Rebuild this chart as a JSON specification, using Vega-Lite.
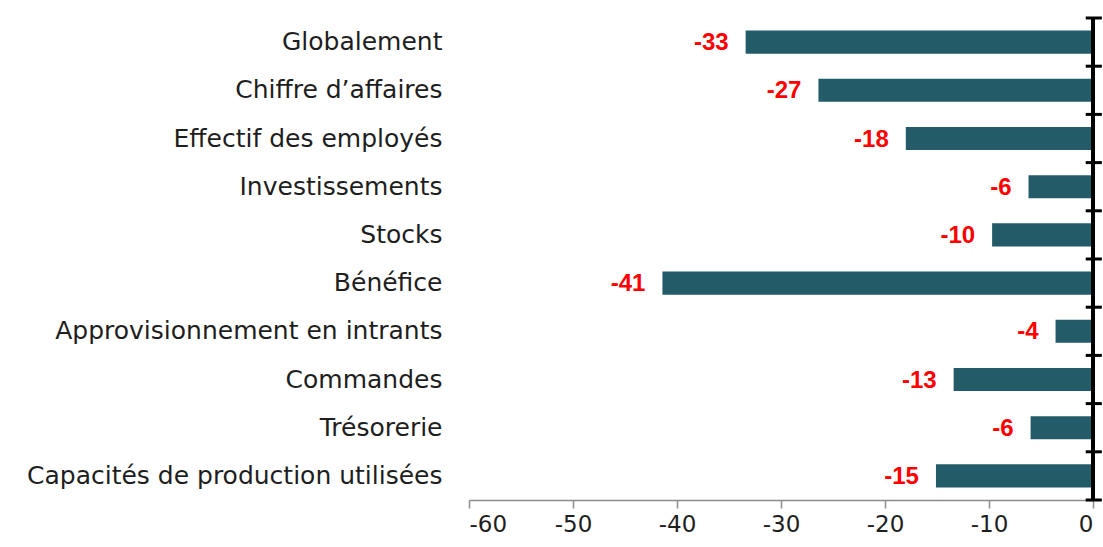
{
  "$schema": "https://vega.github.io/schema/vega-lite/v6.json",
  "autosize": "none",
  "width": 624,
  "height": 482,
  "padding": {"left": 469, "top": 18, "right": 10, "bottom": 47},
  "background": "white",
  "config": {"view": {"stroke": null}},
  "data": {"values": [
    {"cat": "Globalement", "value": -33.4, "label": "-33"},
    {"cat": "Chiffre d’affaires", "value": -26.4, "label": "-27"},
    {"cat": "Effectif des employés", "value": -18.0, "label": "-18"},
    {"cat": "Investissements", "value": -6.2, "label": "-6"},
    {"cat": "Stocks", "value": -9.7, "label": "-10"},
    {"cat": "Bénéfice", "value": -41.4, "label": "-41"},
    {"cat": "Approvisionnement en intrants", "value": -3.6, "label": "-4"},
    {"cat": "Commandes", "value": -13.4, "label": "-13"},
    {"cat": "Trésorerie", "value": -6.0, "label": "-6"},
    {"cat": "Capacités de production utilisées", "value": -15.1, "label": "-15"}
  ]},
  "layer": [
    {
      "mark": {"type": "bar", "color": "#235b69", "height": {"band": 0.48}},
      "encoding": {
        "y": {"field": "cat", "type": "nominal", "sort": null,
          "scale": {"paddingInner": 0, "paddingOuter": 0},
          "axis": {"title": null, "orient": "left", "domain": false, "ticks": false, "tickSize": 0,
            "labelPadding": 27, "labelFont": "DejaVu Sans", "labelFontSize": 25, "labelColor": "#1e1e1e", "labelLimit": 600}},
        "x": {"field": "value", "type": "quantitative",
          "scale": {"domain": [-60, 0], "nice": false, "zero": false},
          "axis": {"title": null, "values": [-60, -50, -40, -30, -20, -10, 0], "grid": false,
            "labelExpr": "'' + datum.value",
            "domainColor": "#8c8c8c", "domainWidth": 1.5, "tickColor": "#8c8c8c", "tickWidth": 1.5, "tickSize": 8,
            "labelFont": "DejaVu Sans", "labelFontSize": 23, "labelColor": "#1e1e1e", "labelPadding": 5}}
      }
    },
    {
      "mark": {"type": "text", "align": "right", "baseline": "middle", "dx": -17, "dy": 1,
        "font": "Liberation Sans", "fontWeight": "bold", "fontSize": 24, "color": "#ff0000"},
      "encoding": {
        "y": {"field": "cat", "type": "nominal", "sort": null},
        "x": {"field": "value", "type": "quantitative"},
        "text": {"field": "label"}
      }
    },
    {
      "mark": {"type": "rule", "color": "#000000", "strokeWidth": 3},
      "encoding": {"x": {"datum": 0}}
    },
    {
      "mark": {"type": "rule", "color": "#000000", "strokeWidth": 3},
      "encoding": {
        "x": {"datum": -0.7}, "x2": {"datum": 0.85},
        "y": {"field": "cat", "type": "nominal", "sort": null, "bandPosition": 0}
      }
    },
    {
      "transform": [{"filter": "datum.cat === 'Capacités de production utilisées'"}],
      "mark": {"type": "rule", "color": "#000000", "strokeWidth": 3},
      "encoding": {
        "x": {"datum": -0.7}, "x2": {"datum": 0.85},
        "y": {"field": "cat", "type": "nominal", "sort": null, "bandPosition": 1}
      }
    }
  ]
}
